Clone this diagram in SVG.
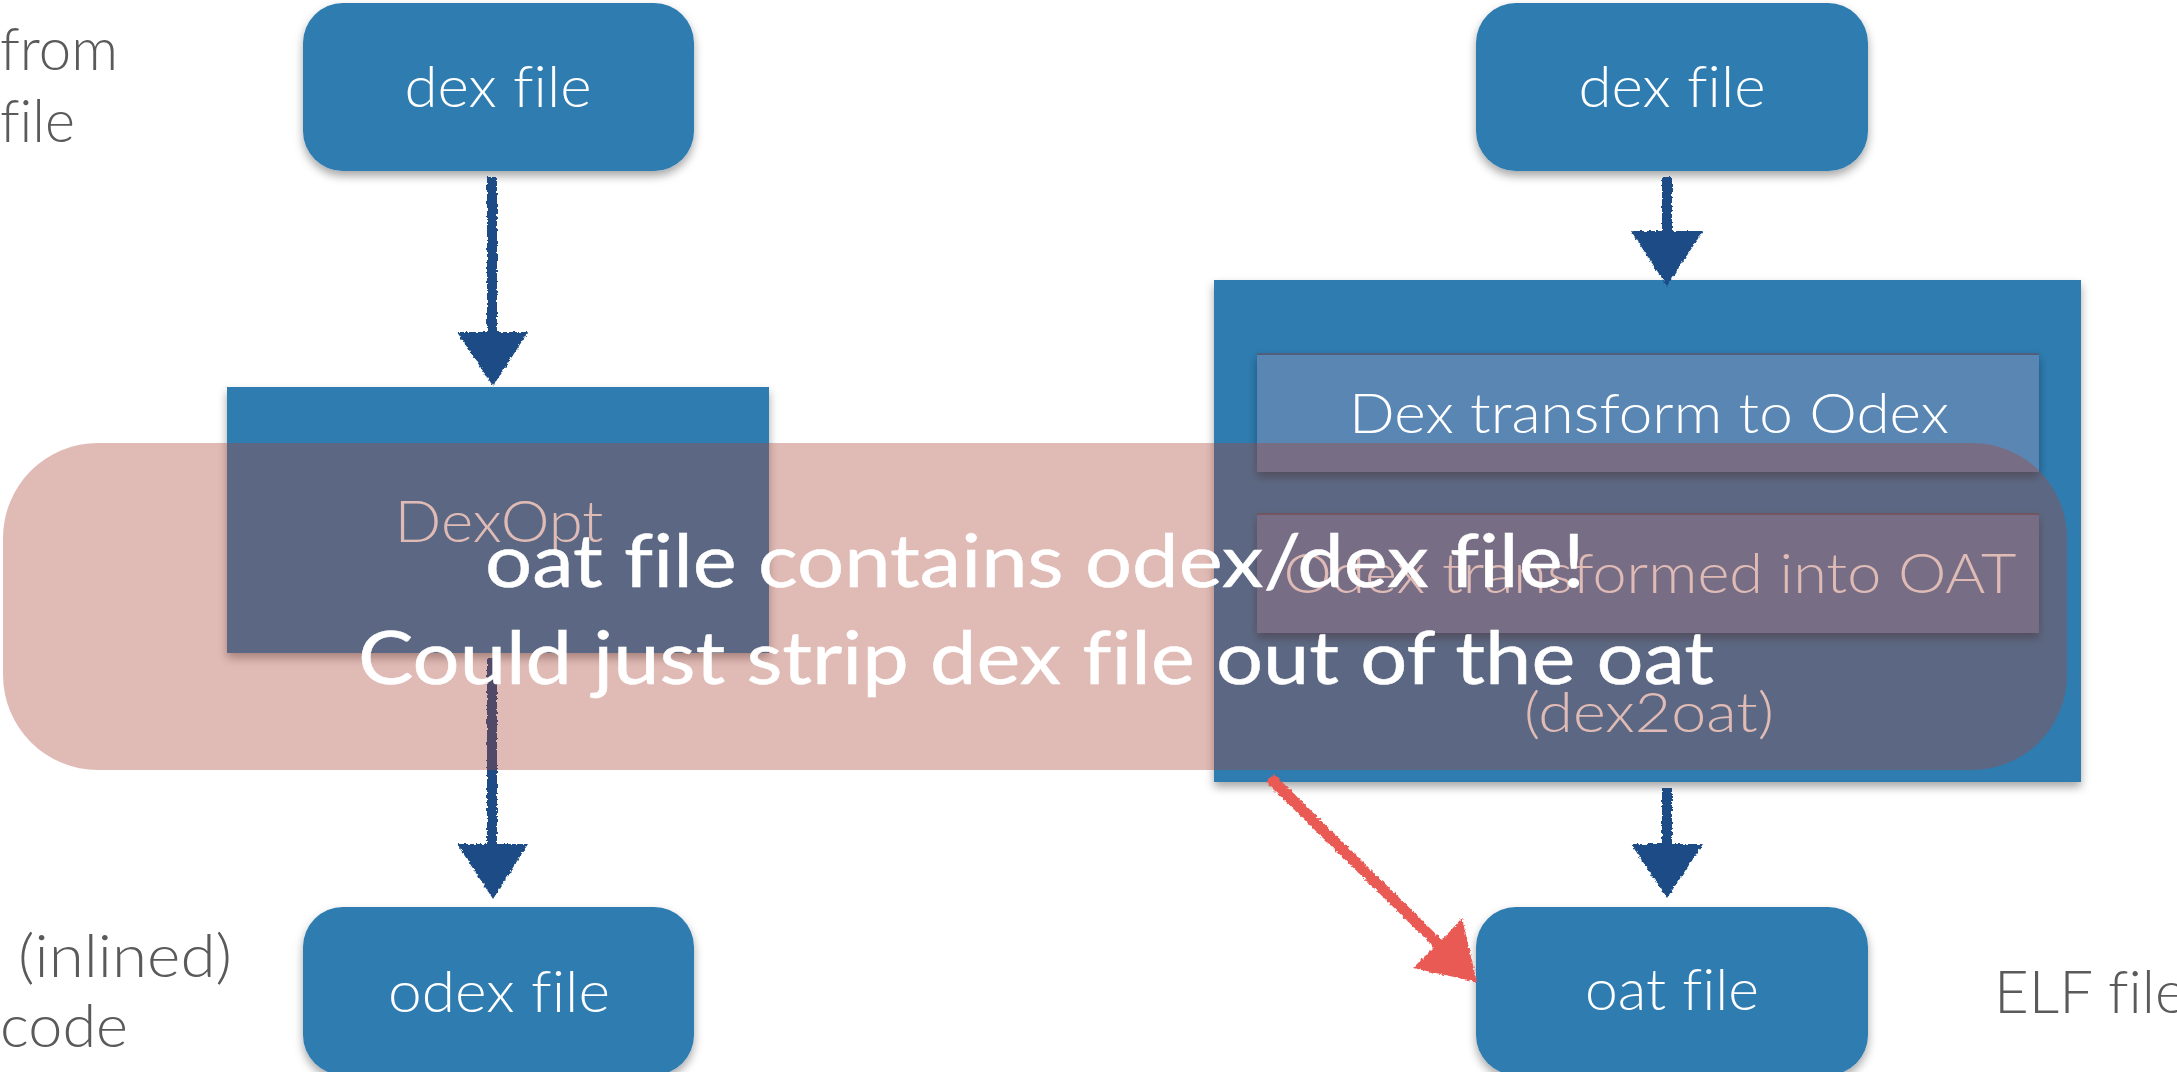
<svg xmlns="http://www.w3.org/2000/svg" width="2177" height="1072" viewBox="0 0 2177 1072">
<defs>
<filter id="shadow" x="-10%" y="-10%" width="120%" height="130%">
<feDropShadow dx="0" dy="5" stdDeviation="5" flood-color="#000" flood-opacity="0.35"/>
</filter>
<filter id="rough" x="-20%" y="-5%" width="140%" height="110%">
<feTurbulence type="fractalNoise" baseFrequency="0.35" numOctaves="2" seed="3" result="n"/>
<feDisplacementMap in="SourceGraphic" in2="n" scale="4" xChannelSelector="R" yChannelSelector="G"/>
</filter>
</defs>
<style>
text{font-variant-ligatures:none;font-feature-settings:"liga" 0,"clig" 0}
.box{fill:#2e7bb0;filter:url(#shadow)}
.step{fill:#5a86b4;filter:url(#shadow)}
.edge{stroke:#4a4656;stroke-width:2;opacity:0.6}
.lbl{font-family:Lato,"Open Sans",sans-serif;font-weight:300;fill:#fff;text-anchor:middle}
.side{font-family:Lato,"Open Sans",sans-serif;font-weight:300;fill:#5a5a5a;font-size:60px}
.arrow{fill:#1a4c86;filter:url(#rough)}
.red{fill:#e85a53;filter:url(#rough)}
.note{font-family:Lato,"Open Sans",sans-serif;font-weight:400;fill:#fff;stroke:#fff;stroke-width:0.5;font-size:74px;text-anchor:middle}
.overlay{fill:rgb(171,71,55);fill-opacity:0.37}
</style>

<g id="side-labels">
<text class="side" x="0" y="70" textLength="118" lengthAdjust="spacingAndGlyphs">from</text>
<text class="side" x="0" y="142" textLength="75" lengthAdjust="spacingAndGlyphs">file</text>
<text class="side" x="18" y="977" textLength="214" lengthAdjust="spacingAndGlyphs">(inlined)</text>
<text class="side" x="0" y="1047" textLength="128" lengthAdjust="spacingAndGlyphs">code</text>
<text class="side" x="1994" y="1013">ELF file</text>
</g>

<g id="node-dex-left">
<rect class="box" x="303" y="3" width="391" height="168" rx="40"/>
<text class="lbl" x="498" y="107" font-size="57" textLength="187" lengthAdjust="spacingAndGlyphs">dex file</text>
</g>

<g id="node-dexopt">
<rect class="box" x="227" y="387" width="542" height="266"/>
<text class="lbl" x="499" y="542" font-size="57" textLength="209" lengthAdjust="spacingAndGlyphs">DexOpt</text>
</g>

<g id="node-odex">
<rect class="box" x="303" y="907" width="391" height="168" rx="40"/>
<text class="lbl" x="499" y="1012" font-size="57" textLength="222" lengthAdjust="spacingAndGlyphs">odex file</text>
</g>

<g id="node-dex-right">
<rect class="box" x="1476" y="3" width="392" height="168" rx="40"/>
<text class="lbl" x="1672" y="107" font-size="57" textLength="187" lengthAdjust="spacingAndGlyphs">dex file</text>
</g>

<g id="node-dex2oat">
<rect class="box" x="1214" y="280" width="867" height="502"/>
<g id="step-dex-to-odex">
<rect class="step" x="1257" y="353" width="782" height="119"/>
<line class="edge" x1="1257" y1="354" x2="2039" y2="354"/>
<text class="lbl" x="1649" y="433" font-size="56" textLength="600" lengthAdjust="spacingAndGlyphs">Dex transform to Odex</text>
</g>
<g id="step-odex-to-oat">
<rect class="step" x="1257" y="513" width="782" height="120"/>
<line class="edge" x1="1257" y1="514" x2="2039" y2="514"/>
<text class="lbl" x="1650" y="593" font-size="56" textLength="733" lengthAdjust="spacingAndGlyphs">Odex transformed into OAT</text>
</g>
<text class="lbl" x="1649" y="732" font-size="56" textLength="250" lengthAdjust="spacingAndGlyphs">(dex2oat)</text>
</g>

<g id="node-oat">
<rect class="box" x="1476" y="907" width="392" height="168" rx="40"/>
<text class="lbl" x="1672" y="1010" font-size="57" textLength="174" lengthAdjust="spacingAndGlyphs">oat file</text>
</g>

<g id="connectors">
<path class="arrow" d="M487,177 H497 V332 H528 L493,386 L457,332 H487 Z"/>
<path class="arrow" d="M487,658 H497 V844 H528 L493,899 L457,844 H487 Z"/>
<path class="arrow" d="M1662,177 H1672 V231 H1703 L1667,286 L1631,231 H1662 Z"/>
<path class="arrow" d="M1662,788 H1672 V844 H1703 L1667,898 L1631,844 H1662 Z"/>
<path class="red" d="M1266,782 L1434,947 L1413,968 L1477,982 L1462,918 L1442,940 L1274,774 Z"/>
</g>

<g id="note">
<rect class="overlay" x="3" y="443" width="2064" height="327" rx="95"/>
<text class="note" x="1035" y="587" textLength="1100" lengthAdjust="spacingAndGlyphs">oat file contains odex/dex file!</text>
<text class="note" x="1036" y="684" textLength="1356" lengthAdjust="spacingAndGlyphs">Could just strip dex file out of the oat</text>
</g>
</svg>
